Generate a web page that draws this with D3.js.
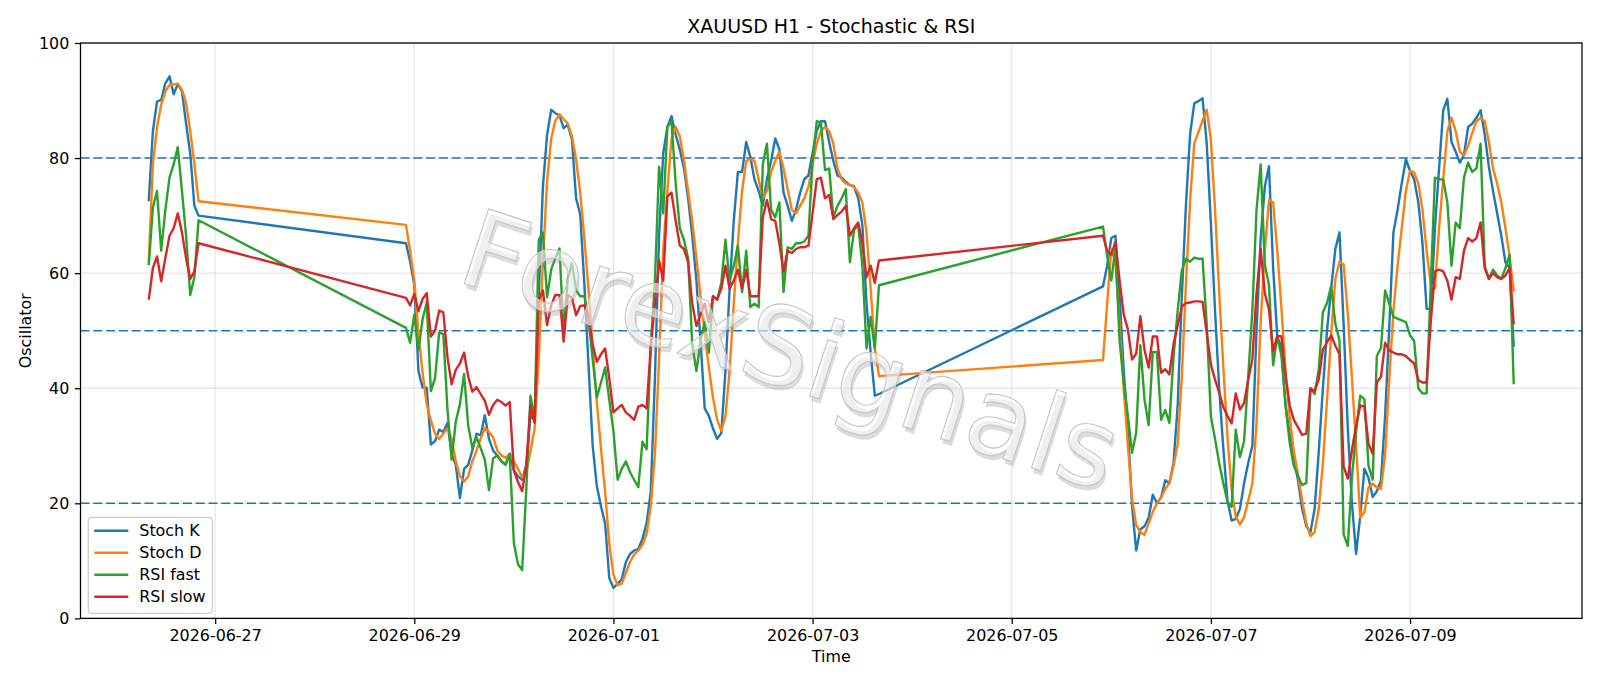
<!DOCTYPE html>
<html>
<head>
<meta charset="utf-8">
<script src="https://cdn.jsdelivr.net/npm/d3@7"></script>
<style>
  html, body { margin: 0; padding: 0; background: #fff; }
  svg { display: block; font-family: "DejaVu Sans", sans-serif; }
</style>
</head>
<body>
<svg id="chart" width="1600" height="686"></svg>
<script>
// trading sessions (hourly bars): first bar time and number of bars
const sessionStarts = ['2026-06-26T08:00:00Z', '2026-06-28T22:00:00Z', '2026-07-05T22:00:00Z'];
const sessionBars = [13, 115, 100];

const stochK = [
  72.5, 84.7, 89.8, 90.1, 93.0, 94.2, 91.1, 92.9, 91.6, 86.0, 80.8, 71.7, 70.0,
  65.2, 62.0, 58.0, 43.0, 40.1, 40.1, 30.2, 30.8, 32.8, 32.4,
  34.0, 28.6, 26.7, 20.9, 26.0, 26.7, 29.2, 32.1, 31.8, 35.3,
  31.2, 29.2, 28.3, 27.3, 26.7, 28.6, 25.7, 24.7, 24.1, 26.7,
  35.3, 34.4, 56.0, 75.0, 84.0, 88.4, 87.8, 87.4, 85.2, 85.8,
  83.2, 73.0, 70.2, 58.0, 44.0, 30.0, 23.0, 19.5, 16.5, 7.0,
  5.3, 6.0, 6.8, 9.8, 11.2, 11.8, 12.1, 13.8, 16.6, 22.0,
  41.7, 66.5, 80.8, 85.4, 87.3, 84.1, 81.5, 78.2, 73.0, 66.5,
  58.7, 48.2, 36.5, 35.2, 33.0, 31.2, 32.2, 43.0, 57.3, 69.1,
  77.6, 77.6, 82.8, 80.2, 76.3, 74.3, 71.7, 76.3, 79.5, 83.4,
  81.5, 74.0, 71.7, 69.1, 71.0, 74.0, 76.3, 77.0, 80.8, 84.7,
  86.4, 86.4, 82.8, 79.5, 77.0, 76.6, 75.9, 75.3, 75.1, 73.0,
  68.4, 54.7, 46.2, 38.7, 39.0,
  57.7, 61.3, 66.1, 66.5, 56.0, 43.0, 33.2, 19.5, 11.8, 15.5,
  16.0, 17.5, 21.5, 20.0, 21.0, 24.0, 23.5, 27.0, 37.0, 56.0,
  72.0, 84.2, 89.5, 89.9, 90.4, 82.5, 68.7, 53.5, 40.0, 29.5,
  20.5, 17.0, 17.3, 19.0, 23.5, 27.0, 30.0, 50.0, 66.0, 75.0,
  78.6, 61.0, 49.0, 47.0, 37.0, 32.0, 28.0, 24.0, 19.0, 16.0,
  15.0, 19.0, 29.0, 40.0, 50.0, 57.4, 64.2, 67.1, 51.0, 33.0,
  20.0, 11.2, 17.8, 26.0, 24.4, 21.1, 22.1, 24.0, 35.2, 50.8,
  67.1, 71.0, 75.6, 79.8, 77.8, 76.3, 72.3, 65.2, 53.8, 53.8,
  67.8, 78.2, 88.3, 90.3, 82.8, 81.1, 79.2, 80.5, 85.4, 86.0,
  87.0, 88.3, 84.1, 78.5, 74.3, 70.4, 66.5, 61.9, 60.9, 47.2
];

const stochD = [
  62.0, 78.9, 85.4, 89.3, 91.6, 92.7, 92.8, 92.9, 91.9, 89.6, 84.7, 78.9, 72.5,
  68.4, 63.9, 58.7, 49.5, 42.7, 37.2, 34.4, 32.1, 31.2, 32.1,
  33.1, 31.2, 27.3, 24.7, 23.8, 24.7, 27.3, 29.2, 31.2, 33.1,
  32.4, 31.5, 29.2, 28.3, 27.9, 28.6, 27.3, 26.0, 24.5, 25.5,
  29.0, 33.0, 45.0, 62.0, 76.0, 83.4, 86.5, 87.6, 86.8, 86.0,
  83.8, 79.7, 74.0, 66.0, 57.0, 47.0, 37.5, 29.5, 22.0, 13.0,
  7.6, 5.8, 6.0, 7.9, 9.8, 11.1, 11.8, 12.8, 14.7, 19.5,
  28.5, 45.0, 64.0, 74.3, 83.4, 85.4, 83.8, 79.5, 74.3, 69.1,
  62.6, 56.0, 49.5, 43.6, 38.4, 34.5, 32.6, 35.2, 43.0, 54.7,
  65.2, 74.3, 79.5, 79.8, 79.5, 76.3, 73.0, 74.3, 77.6, 79.5,
  81.1, 78.2, 74.6, 71.0, 70.4, 71.7, 73.0, 75.0, 78.9, 82.5,
  84.7, 85.4, 84.7, 82.5, 78.2, 76.3, 75.6, 75.3, 75.0, 74.0,
  72.3, 67.1, 57.3, 46.9, 42.1,
  44.9, 54.7, 64.2, 61.9, 51.0, 39.8, 30.0, 20.8, 16.2, 15.0,
  14.5, 16.5, 18.5, 20.0, 21.0, 22.5, 23.5, 26.5, 30.3, 42.0,
  58.3, 72.8, 82.6, 84.5, 86.5, 88.4, 83.2, 71.2, 56.7, 43.8,
  31.5, 22.4, 17.7, 16.3, 17.6, 20.5, 23.4, 33.9, 51.5, 63.9,
  72.7, 72.3, 64.0, 54.0, 43.0, 35.0, 29.0, 25.0, 20.5, 16.5,
  14.3, 15.0, 19.0, 27.0, 38.0, 49.5, 59.0, 62.0, 61.5, 53.0,
  41.7, 30.0, 17.5, 18.5, 22.8, 23.4, 22.8, 22.5, 28.6, 41.7,
  53.4, 61.3, 67.8, 74.3, 77.8, 77.5, 75.6, 71.0, 63.9, 58.0,
  57.3, 67.8, 76.3, 84.7, 87.0, 84.7, 81.1, 80.5, 82.1, 84.4,
  86.4, 87.0, 86.4, 82.8, 78.2, 75.6, 72.3, 67.8, 62.9, 56.8
];

const rsiFast = [
  61.4, 71.4, 74.3, 63.9, 71.0, 76.6, 78.9, 81.9, 74.3, 66.5, 56.2, 59.3, 69.2,
  50.5, 47.9, 52.8, 46.6, 52.0, 54.9, 39.5, 41.7, 49.7, 49.4,
  36.3, 27.6, 34.2, 37.2, 42.5, 33.5, 29.6, 31.5, 29.6, 27.6,
  22.3, 27.8, 28.3, 27.3, 26.8, 28.6, 13.1, 9.4, 8.4, 22.5,
  38.7, 34.5, 65.8, 67.0, 55.8, 60.6, 62.6, 64.3, 49.6, 59.0,
  61.7, 57.0, 56.0, 56.0, 52.0, 45.0, 38.4, 41.0, 43.6, 38.0,
  32.6, 24.1, 26.0, 27.3, 25.4, 24.1, 22.8, 30.7, 29.4, 47.2,
  58.7, 78.5, 70.4, 85.4, 86.4, 75.6, 67.8, 65.8, 62.6, 47.6,
  43.0, 48.2, 51.5, 46.2, 56.0, 55.4, 58.3, 65.8, 58.7, 61.3,
  64.8, 56.7, 63.9, 54.1, 54.7, 54.1, 78.9, 82.5, 71.0, 69.7,
  72.3, 56.7, 64.5, 64.2, 65.2, 65.2, 65.5, 66.5, 79.5, 86.4,
  86.2, 77.9, 78.2, 69.7, 71.7, 73.0, 74.6, 61.9, 67.5, 68.4,
  61.3, 46.9, 52.4, 46.9, 57.9,
  68.1, 63.0, 58.7, 64.5, 48.2, 41.0, 35.2, 28.8, 32.3, 47.5,
  38.0, 33.6, 46.3, 46.3, 34.5, 36.2, 34.0, 45.5, 53.5, 60.5,
  62.5, 62.0, 62.7, 62.5, 62.5, 51.0, 35.1, 31.2, 27.0, 23.5,
  20.3, 19.4, 32.8, 28.0, 30.8, 42.0, 53.5, 71.0, 78.9, 61.5,
  58.0, 44.0, 49.0, 45.7, 37.0, 30.5, 26.5, 24.7, 23.2, 23.5,
  40.0, 39.0, 43.2, 53.2, 54.8, 57.8, 51.2, 48.3, 14.6, 12.6,
  24.5, 32.5, 38.7, 38.1, 26.5, 24.1, 45.6, 47.0, 57.0, 54.7,
  52.4, 52.1, 51.8, 51.5, 49.2, 48.2, 40.0, 39.1, 39.1, 58.0,
  76.6, 76.3, 76.3, 72.3, 61.3, 68.8, 67.8, 76.6, 79.2, 77.6,
  78.2, 82.5, 61.3, 59.0, 60.6, 59.6, 59.0, 60.9, 63.2, 40.7
];

const rsiSlow = [
  55.4, 60.9, 62.9, 58.6, 62.6, 66.5, 67.8, 70.4, 67.1, 62.6, 59.0, 60.3, 65.2,
  55.7, 54.4, 56.4, 53.4, 55.5, 56.5, 49.0, 50.0, 53.5, 53.2,
  45.4, 40.7, 43.2, 44.3, 46.2, 42.0, 39.4, 40.2, 39.0, 37.8,
  35.4, 37.1, 38.0, 37.6, 37.0, 37.6, 25.7, 23.7, 22.1, 26.6,
  37.0, 34.0, 55.4, 57.0, 51.0, 54.4, 56.2, 56.2, 48.1, 56.2,
  55.7, 52.7, 54.3, 54.4, 52.3, 47.6, 44.6, 45.9, 46.9, 41.7,
  35.8, 36.5, 37.1, 35.8, 35.2, 34.5, 36.8, 37.1, 36.5, 47.2,
  54.7, 62.2, 58.7, 73.3, 74.0, 69.1, 64.8, 64.2, 61.9, 54.7,
  50.8, 52.8, 54.7, 51.5, 56.0, 55.4, 57.3, 61.3, 57.3, 58.7,
  60.6, 57.3, 60.6, 56.0, 56.0, 56.0, 69.7, 72.7, 69.4, 69.1,
  65.2, 60.3, 63.9, 63.5, 64.2, 64.5, 64.5, 64.8, 70.4, 76.3,
  76.6, 73.0, 73.6, 69.4, 70.1, 70.7, 71.7, 66.5, 67.8, 68.8,
  65.2, 59.3, 61.3, 58.3, 62.2,
  66.5, 63.9, 63.2, 65.5, 58.7, 52.8, 50.2, 45.0, 46.0, 52.5,
  46.7, 43.6, 49.0, 49.0, 42.7, 43.3, 42.4, 47.7, 50.9, 54.2,
  54.8, 54.9, 55.1, 55.1, 55.0, 49.6, 44.1, 41.5, 39.3, 36.7,
  35.2, 33.9, 39.1, 36.3, 37.4, 41.5, 45.0, 56.5, 64.2, 56.5,
  53.7, 46.4, 49.1, 49.0, 42.2, 37.0, 34.5, 33.2, 31.9, 32.1,
  40.0, 39.5, 41.6, 46.7, 48.0, 49.2, 47.4, 45.9, 26.4, 24.3,
  29.3, 33.5, 37.0, 36.8, 30.3, 28.6, 41.0, 42.0, 47.9, 46.6,
  46.2, 45.9, 45.9, 45.6, 44.9, 44.3, 41.4, 41.0, 41.0, 51.5,
  60.3, 60.6, 60.3, 58.7, 55.4, 59.3, 59.0, 63.9, 66.1, 65.5,
  66.1, 68.8, 60.9, 59.0, 60.0, 59.3, 59.0, 59.6, 60.9, 51.1
];

const seriesNames = ['Stoch K', 'Stoch D', 'RSI fast', 'RSI slow'];
const seriesColors = ['#1f77b4', '#ff7f0e', '#2ca02c', '#d62728'];
const levels = [20, 50, 80];
const yTicks = [0, 20, 40, 60, 80, 100];

// build the hourly time axis from the sessions
const times = [];
sessionStarts.forEach((s, i) => {
  const start = new Date(s);
  for (let k = 0; k < sessionBars[i]; k++) times.push(d3.utcHour.offset(start, k));
});

const width = 1600;
const height = 686;
const margin = { top: 43, right: 18, bottom: 67.6, left: 80.5 };
const innerWidth = width - margin.left - margin.right;
const innerHeight = height - margin.top - margin.bottom;
const font = '"DejaVu Sans", sans-serif';

const svg = d3.select('#chart');
svg.append('rect').attr('width', width).attr('height', height).attr('fill', '#fff');

// matplotlib style 5% margins on x
const [t0, t1] = d3.extent(times);
const pad = (t1 - t0) * 0.05;
const xScale = d3.scaleUtc()
  .domain([new Date(+t0 - pad), new Date(+t1 + pad)])
  .range([0, innerWidth]);

const yScale = d3.scaleLinear()
  .domain([0, 100])
  .range([innerHeight, 0]);

const g = svg.append('g').attr('transform', `translate(${margin.left},${margin.top})`);

const xTicks = xScale.ticks(d3.utcDay.every(2));

// grid
g.append('g').selectAll('line')
  .data(xTicks)
  .join('line')
  .attr('x1', d => xScale(d)).attr('x2', d => xScale(d))
  .attr('y1', 0).attr('y2', innerHeight)
  .attr('stroke', '#b0b0b0').attr('stroke-opacity', 0.3).attr('stroke-width', 1.27);

g.append('g').selectAll('line')
  .data(yTicks)
  .join('line')
  .attr('x1', 0).attr('x2', innerWidth)
  .attr('y1', d => yScale(d)).attr('y2', d => yScale(d))
  .attr('stroke', '#b0b0b0').attr('stroke-opacity', 0.3).attr('stroke-width', 1.27);

// level lines
g.append('g').selectAll('line')
  .data(levels)
  .join('line')
  .attr('x1', 0).attr('x2', innerWidth)
  .attr('y1', d => yScale(d)).attr('y2', d => yScale(d))
  .attr('stroke', '#1f77b4').attr('stroke-width', 1.5)
  .attr('stroke-dasharray', '9,3.8');

// series
const allSeries = [stochK, stochD, rsiFast, rsiSlow];
const line = d3.line()
  .x((d, i) => xScale(times[i]))
  .y(d => yScale(d));

g.append('g').selectAll('path')
  .data(allSeries)
  .join('path')
  .attr('d', d => line(d))
  .attr('fill', 'none')
  .attr('stroke', (d, i) => seriesColors[i])
  .attr('stroke-width', 2.4)
  .attr('stroke-linejoin', 'round');

// watermark
const wm = svg.append('g')
  .attr('transform', 'translate(791,349) rotate(18)')
  .attr('font-family', font)
  .attr('font-size', 108)
  .attr('text-anchor', 'middle');
wm.append('text')
  .attr('x', 3).attr('y', 4).attr('dy', '0.36em')
  .attr('fill', '#8c8c8c').attr('fill-opacity', 0.3)
  .text('ForexSignals');
wm.append('text')
  .attr('dy', '0.36em')
  .attr('fill', '#ffffff').attr('fill-opacity', 0.55)
  .attr('stroke', '#c6c6c6').attr('stroke-width', 1.1)
  .text('ForexSignals');

// axes
const xAxis = g.append('g')
  .attr('transform', `translate(0,${innerHeight})`)
  .call(d3.axisBottom(xScale)
    .tickValues(xTicks)
    .tickFormat(d3.utcFormat('%Y-%m-%d'))
    .tickSize(5.6)
    .tickPadding(5.6));

const yAxis = g.append('g')
  .call(d3.axisLeft(yScale)
    .tickValues(yTicks)
    .tickSize(5.6)
    .tickPadding(5.6));

[xAxis, yAxis].forEach(ax => {
  ax.select('.domain').remove();
  ax.selectAll('.tick line').attr('stroke', '#000').attr('stroke-width', 1.27);
  ax.selectAll('.tick text')
    .attr('fill', '#000')
    .attr('font-family', font)
    .attr('font-size', 15.9);
});

// spines
g.append('rect')
  .attr('width', innerWidth).attr('height', innerHeight)
  .attr('fill', 'none').attr('stroke', '#000').attr('stroke-width', 1.27);

// labels
svg.append('text')
  .attr('x', margin.left + innerWidth / 2).attr('y', 33)
  .attr('text-anchor', 'middle')
  .attr('font-family', font).attr('font-size', 19)
  .text('XAUUSD H1 - Stochastic & RSI');

svg.append('text')
  .attr('x', margin.left + innerWidth / 2).attr('y', 662)
  .attr('text-anchor', 'middle')
  .attr('font-family', font).attr('font-size', 15.9)
  .text('Time');

svg.append('text')
  .attr('transform', `translate(31,${margin.top + innerHeight / 2}) rotate(-90)`)
  .attr('text-anchor', 'middle')
  .attr('font-family', font).attr('font-size', 15.9)
  .text('Oscillator');

// legend
const legend = svg.append('g').attr('transform', 'translate(88.3,517.3)');
legend.append('rect')
  .attr('width', 124).attr('height', 96)
  .attr('rx', 3.5)
  .attr('fill', '#fff').attr('fill-opacity', 0.8)
  .attr('stroke', '#cccccc').attr('stroke-width', 1.27);

const rows = legend.selectAll('g.row')
  .data(seriesNames)
  .join('g')
  .attr('class', 'row')
  .attr('transform', (d, i) => `translate(0,${13.4 + i * 22})`);

rows.append('line')
  .attr('x1', 6).attr('x2', 40)
  .attr('stroke', (d, i) => seriesColors[i])
  .attr('stroke-width', 2.4);

rows.append('text')
  .attr('x', 51).attr('dy', '0.35em')
  .attr('font-family', font).attr('font-size', 15.9)
  .text(d => d);
</script>
</body>
</html>
